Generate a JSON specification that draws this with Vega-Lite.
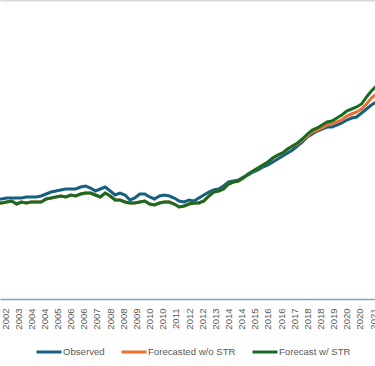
{
  "$schema": "https://vega.github.io/schema/vega-lite/v6.json",
  "width": 375,
  "height": 299,
  "autosize": {"type": "none"},
  "padding": {"left": 0, "top": 0, "right": 0, "bottom": 67},
  "background": "white",
  "config": {"view": {"stroke": null}, "font": "Liberation Sans"},
  "data": {"values": [
    {"date": "2002-04-01", "Observed": 100, "Forecasted w/o STR": 96, "Forecast w/ STR": 96},
    {"date": "2002-07-01", "Observed": 100, "Forecasted w/o STR": 96, "Forecast w/ STR": 96},
    {"date": "2002-10-01", "Observed": 101, "Forecasted w/o STR": 97, "Forecast w/ STR": 97},
    {"date": "2003-01-01", "Observed": 101, "Forecasted w/o STR": 98, "Forecast w/ STR": 98},
    {"date": "2003-04-01", "Observed": 101, "Forecasted w/o STR": 95, "Forecast w/ STR": 95},
    {"date": "2003-07-01", "Observed": 101, "Forecasted w/o STR": 97, "Forecast w/ STR": 97},
    {"date": "2003-10-01", "Observed": 102, "Forecasted w/o STR": 96, "Forecast w/ STR": 96},
    {"date": "2004-01-01", "Observed": 102, "Forecasted w/o STR": 97, "Forecast w/ STR": 97},
    {"date": "2004-04-01", "Observed": 102, "Forecasted w/o STR": 97, "Forecast w/ STR": 97},
    {"date": "2004-07-01", "Observed": 103, "Forecasted w/o STR": 97, "Forecast w/ STR": 97},
    {"date": "2004-10-01", "Observed": 105, "Forecasted w/o STR": 100, "Forecast w/ STR": 100},
    {"date": "2005-01-01", "Observed": 107, "Forecasted w/o STR": 101, "Forecast w/ STR": 101},
    {"date": "2005-04-01", "Observed": 108, "Forecasted w/o STR": 102, "Forecast w/ STR": 102},
    {"date": "2005-07-01", "Observed": 109, "Forecasted w/o STR": 103, "Forecast w/ STR": 103},
    {"date": "2005-10-01", "Observed": 110, "Forecasted w/o STR": 102, "Forecast w/ STR": 102},
    {"date": "2006-01-01", "Observed": 110, "Forecasted w/o STR": 104, "Forecast w/ STR": 104},
    {"date": "2006-04-01", "Observed": 110, "Forecasted w/o STR": 103, "Forecast w/ STR": 103},
    {"date": "2006-07-01", "Observed": 112, "Forecasted w/o STR": 105, "Forecast w/ STR": 105},
    {"date": "2006-10-01", "Observed": 113, "Forecasted w/o STR": 106, "Forecast w/ STR": 106},
    {"date": "2007-01-01", "Observed": 111, "Forecasted w/o STR": 106, "Forecast w/ STR": 106},
    {"date": "2007-04-01", "Observed": 108, "Forecasted w/o STR": 104, "Forecast w/ STR": 104},
    {"date": "2007-07-01", "Observed": 110, "Forecasted w/o STR": 102, "Forecast w/ STR": 102},
    {"date": "2007-10-01", "Observed": 112, "Forecasted w/o STR": 106, "Forecast w/ STR": 106},
    {"date": "2008-01-01", "Observed": 108, "Forecasted w/o STR": 103, "Forecast w/ STR": 103},
    {"date": "2008-04-01", "Observed": 104, "Forecasted w/o STR": 99, "Forecast w/ STR": 99},
    {"date": "2008-07-01", "Observed": 106, "Forecasted w/o STR": 99, "Forecast w/ STR": 99},
    {"date": "2008-10-01", "Observed": 104, "Forecasted w/o STR": 97, "Forecast w/ STR": 97},
    {"date": "2009-01-01", "Observed": 99, "Forecasted w/o STR": 96, "Forecast w/ STR": 96},
    {"date": "2009-04-01", "Observed": 101, "Forecasted w/o STR": 96, "Forecast w/ STR": 96},
    {"date": "2009-07-01", "Observed": 105, "Forecasted w/o STR": 97, "Forecast w/ STR": 97},
    {"date": "2009-10-01", "Observed": 105, "Forecasted w/o STR": 98, "Forecast w/ STR": 98},
    {"date": "2010-01-01", "Observed": 102, "Forecasted w/o STR": 95, "Forecast w/ STR": 95},
    {"date": "2010-04-01", "Observed": 100, "Forecasted w/o STR": 94, "Forecast w/ STR": 94},
    {"date": "2010-07-01", "Observed": 103, "Forecasted w/o STR": 96, "Forecast w/ STR": 96},
    {"date": "2010-10-01", "Observed": 104, "Forecasted w/o STR": 97, "Forecast w/ STR": 97},
    {"date": "2011-01-01", "Observed": 103, "Forecasted w/o STR": 97, "Forecast w/ STR": 97},
    {"date": "2011-04-01", "Observed": 101, "Forecasted w/o STR": 95, "Forecast w/ STR": 95},
    {"date": "2011-07-01", "Observed": 98, "Forecasted w/o STR": 92, "Forecast w/ STR": 92},
    {"date": "2011-10-01", "Observed": 97, "Forecasted w/o STR": 93, "Forecast w/ STR": 93},
    {"date": "2012-01-01", "Observed": 99, "Forecasted w/o STR": 95, "Forecast w/ STR": 95},
    {"date": "2012-04-01", "Observed": 98, "Forecasted w/o STR": 96, "Forecast w/ STR": 96},
    {"date": "2012-07-01", "Observed": 101, "Forecasted w/o STR": 96, "Forecast w/ STR": 96},
    {"date": "2012-10-01", "Observed": 104, "Forecasted w/o STR": 98, "Forecast w/ STR": 98},
    {"date": "2013-01-01", "Observed": 107, "Forecasted w/o STR": 103, "Forecast w/ STR": 103},
    {"date": "2013-04-01", "Observed": 109, "Forecasted w/o STR": 107, "Forecast w/ STR": 107},
    {"date": "2013-07-01", "Observed": 110, "Forecasted w/o STR": 108, "Forecast w/ STR": 108},
    {"date": "2013-10-01", "Observed": 113, "Forecasted w/o STR": 110, "Forecast w/ STR": 110},
    {"date": "2014-01-01", "Observed": 117, "Forecasted w/o STR": 115, "Forecast w/ STR": 115},
    {"date": "2014-04-01", "Observed": 118, "Forecasted w/o STR": 117, "Forecast w/ STR": 117},
    {"date": "2014-07-01", "Observed": 119, "Forecasted w/o STR": 118, "Forecast w/ STR": 118},
    {"date": "2014-10-01", "Observed": 122, "Forecasted w/o STR": 121, "Forecast w/ STR": 121},
    {"date": "2015-01-01", "Observed": 124, "Forecasted w/o STR": 125, "Forecast w/ STR": 125},
    {"date": "2015-04-01", "Observed": 127, "Forecasted w/o STR": 128, "Forecast w/ STR": 128},
    {"date": "2015-07-01", "Observed": 129, "Forecasted w/o STR": 131, "Forecast w/ STR": 131},
    {"date": "2015-10-01", "Observed": 132, "Forecasted w/o STR": 134, "Forecast w/ STR": 134},
    {"date": "2016-01-01", "Observed": 134, "Forecasted w/o STR": 137, "Forecast w/ STR": 137},
    {"date": "2016-04-01", "Observed": 137, "Forecasted w/o STR": 141, "Forecast w/ STR": 141},
    {"date": "2016-07-01", "Observed": 140, "Forecasted w/o STR": 144, "Forecast w/ STR": 144},
    {"date": "2016-10-01", "Observed": 143, "Forecasted w/o STR": 146, "Forecast w/ STR": 146},
    {"date": "2017-01-01", "Observed": 146, "Forecasted w/o STR": 150, "Forecast w/ STR": 150},
    {"date": "2017-04-01", "Observed": 149, "Forecasted w/o STR": 153, "Forecast w/ STR": 153},
    {"date": "2017-07-01", "Observed": 153, "Forecasted w/o STR": 155, "Forecast w/ STR": 156},
    {"date": "2017-10-01", "Observed": 157, "Forecasted w/o STR": 159, "Forecast w/ STR": 160},
    {"date": "2018-01-01", "Observed": 162, "Forecasted w/o STR": 163, "Forecast w/ STR": 165},
    {"date": "2018-04-01", "Observed": 165, "Forecasted w/o STR": 167, "Forecast w/ STR": 169},
    {"date": "2018-07-01", "Observed": 168, "Forecasted w/o STR": 169, "Forecast w/ STR": 171},
    {"date": "2018-10-01", "Observed": 170, "Forecasted w/o STR": 171, "Forecast w/ STR": 174},
    {"date": "2019-01-01", "Observed": 172, "Forecasted w/o STR": 174, "Forecast w/ STR": 177},
    {"date": "2019-04-01", "Observed": 172, "Forecasted w/o STR": 175, "Forecast w/ STR": 178},
    {"date": "2019-07-01", "Observed": 174, "Forecasted w/o STR": 177, "Forecast w/ STR": 181},
    {"date": "2019-10-01", "Observed": 176, "Forecasted w/o STR": 179, "Forecast w/ STR": 184},
    {"date": "2020-01-01", "Observed": 179, "Forecasted w/o STR": 183, "Forecast w/ STR": 188},
    {"date": "2020-04-01", "Observed": 181, "Forecasted w/o STR": 185, "Forecast w/ STR": 190},
    {"date": "2020-07-01", "Observed": 182, "Forecasted w/o STR": 187, "Forecast w/ STR": 192},
    {"date": "2020-10-01", "Observed": 186, "Forecasted w/o STR": 190, "Forecast w/ STR": 195},
    {"date": "2021-01-01", "Observed": 190, "Forecasted w/o STR": 195, "Forecast w/ STR": 202},
    {"date": "2021-04-01", "Observed": 194, "Forecasted w/o STR": 201, "Forecast w/ STR": 208},
    {"date": "2021-07-01", "Observed": 197, "Forecasted w/o STR": 205, "Forecast w/ STR": 213}
  ]},
  "transform": [
    {"fold": ["Observed", "Forecasted w/o STR", "Forecast w/ STR"], "as": ["series", "value"]}
  ],
  "mark": {"type": "line", "strokeWidth": 3, "clip": true},
  "encoding": {
    "x": {
      "field": "date",
      "type": "temporal",
      "scale": {"domain": [{"year": 2002, "month": 5, "date": 30}, {"year": 2021, "month": 6, "date": 7}]},
      "axis": {
        "title": null,
        "format": "%Y",
        "values": [
          {"year": 2002, "month": 9, "date": 1}, {"year": 2003, "month": 5, "date": 1},
          {"year": 2004, "month": 1, "date": 1}, {"year": 2004, "month": 9, "date": 1},
          {"year": 2005, "month": 5, "date": 1}, {"year": 2006, "month": 1, "date": 1},
          {"year": 2006, "month": 9, "date": 1}, {"year": 2007, "month": 5, "date": 1},
          {"year": 2008, "month": 1, "date": 1}, {"year": 2008, "month": 9, "date": 1},
          {"year": 2009, "month": 5, "date": 1}, {"year": 2010, "month": 1, "date": 1},
          {"year": 2010, "month": 9, "date": 1}, {"year": 2011, "month": 5, "date": 1},
          {"year": 2012, "month": 1, "date": 1}, {"year": 2012, "month": 9, "date": 1},
          {"year": 2013, "month": 5, "date": 1}, {"year": 2014, "month": 1, "date": 1},
          {"year": 2014, "month": 9, "date": 1}, {"year": 2015, "month": 5, "date": 1},
          {"year": 2016, "month": 1, "date": 1}, {"year": 2016, "month": 9, "date": 1},
          {"year": 2017, "month": 5, "date": 1}, {"year": 2018, "month": 1, "date": 1},
          {"year": 2018, "month": 9, "date": 1}, {"year": 2019, "month": 5, "date": 1},
          {"year": 2020, "month": 1, "date": 1}, {"year": 2020, "month": 9, "date": 1},
          {"year": 2021, "month": 5, "date": 1}
        ],
        "labelAngle": -90,
        "labelFont": "Liberation Sans",
        "labelFontSize": 9.5,
        "labelColor": "#595959",
        "labelPadding": 9,
        "labelOverlap": false,
        "labelFlush": false,
        "ticks": false,
        "grid": false,
        "domainColor": "#7fa3c2",
        "domainWidth": 1.5
      }
    },
    "y": {
      "field": "value",
      "type": "quantitative",
      "scale": {"domain": [0, 299], "nice": false, "zero": true},
      "axis": {
        "title": null,
        "values": [299],
        "labels": false,
        "ticks": false,
        "domain": false,
        "grid": true,
        "gridColor": "#d9d9d9",
        "gridWidth": 2
      }
    },
    "color": {
      "field": "series",
      "type": "nominal",
      "sort": ["Observed", "Forecasted w/o STR", "Forecast w/ STR"],
      "scale": {
        "domain": ["Observed", "Forecasted w/o STR", "Forecast w/ STR"],
        "range": ["#156082", "#E97132", "#196B24"]
      },
      "legend": {
        "title": null,
        "orient": "none",
        "legendX": 35,
        "legendY": 338,
        "direction": "horizontal",
        "padding": 0,
        "symbolType": "stroke",
        "symbolSize": 625,
        "symbolStrokeWidth": 3,
        "labelFont": "Liberation Sans",
        "labelFontSize": 9.6,
        "labelColor": "#595959",
        "labelOffset": 0,
        "columnPadding": 10
      }
    }
  }
}
